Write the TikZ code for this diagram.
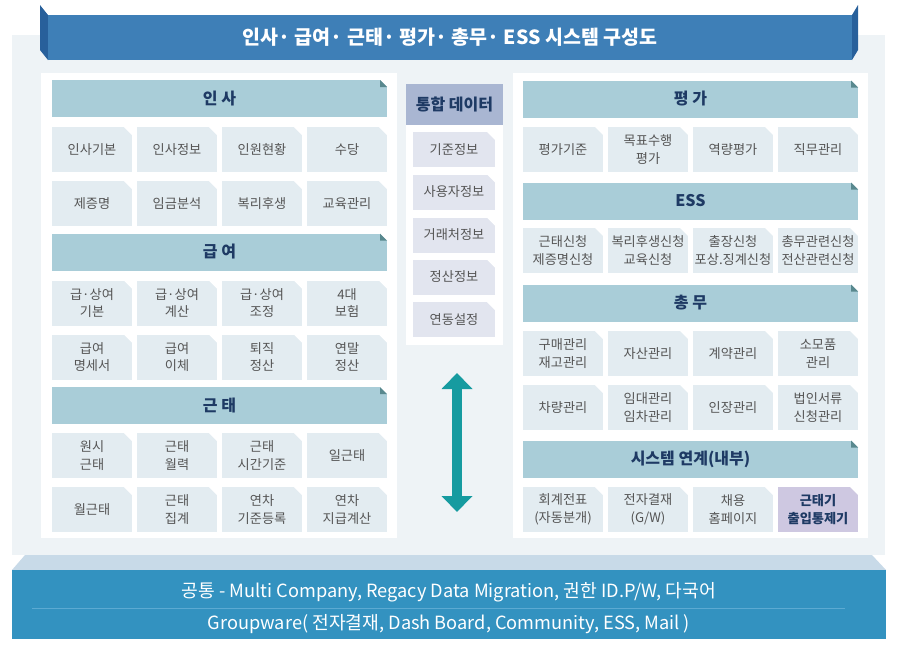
\documentclass[tikz,border=0pt]{standalone}
\usepackage{fontspec}
\setmainfont{Noto Sans CJK KR}
\usetikzlibrary{arrows.meta}
\definecolor{bannerc}{RGB}{62,127,183}
\definecolor{bannerside}{RGB}{40,96,155}
\definecolor{bgc}{RGB}{238,243,246}
\definecolor{headc}{RGB}{169,205,216}
\definecolor{headtext}{RGB}{30,58,100}
\definecolor{foldc}{RGB}{88,136,142}
\definecolor{cellc}{RGB}{227,236,241}
\definecolor{celltext}{RGB}{85,85,85}
\definecolor{midhead}{RGB}{169,182,210}
\definecolor{midcellc}{RGB}{226,229,239}
\definecolor{purplec}{RGB}{206,200,225}
\definecolor{arrowc}{RGB}{22,155,160}
\definecolor{bandc}{RGB}{51,146,192}
\definecolor{bandtop}{RGB}{200,218,232}
\definecolor{bandline}{RGB}{92,170,210}
\begin{document}
\begin{tikzpicture}[x=1pt,y=-1pt,
  cutcorner/.style={path picture={\fill[white] ([xshift=-#1]path picture bounding box.north east) -- (path picture bounding box.north east) -- ([yshift=-#1]path picture bounding box.north east) -- cycle;}},
  head/.style={rectangle, fill=headc, minimum width=335pt, minimum height=37pt, inner sep=0pt, outer sep=0pt,
    font=\fontsize{16}{19}\selectfont\bfseries, text=headtext,
    path picture={\fill[white] ([xshift=-7pt]path picture bounding box.north east) -- (path picture bounding box.north east) -- ([yshift=-7pt]path picture bounding box.north east) -- cycle;
      \fill[foldc] ([xshift=-7pt]path picture bounding box.north east) -- ([xshift=-7pt,yshift=-7pt]path picture bounding box.north east) -- ([yshift=-7pt]path picture bounding box.north east) -- cycle;}},
  cell/.style={rectangle, fill=cellc, minimum width=80pt, minimum height=45pt, inner sep=0pt, outer sep=0pt,
    align=center, font=\fontsize{13.2}{17.5}\selectfont, text=celltext, cutcorner=8pt},
  midcell/.style={cell, fill=midcellc, minimum width=82pt, minimum height=35pt},
  purplecell/.style={cell, fill=purplec, text=headtext, font=\fontsize{13.2}{17.5}\selectfont\bfseries},
  bandtext/.style={text=white, font=\fontsize{18.2}{22}\selectfont, inner sep=0pt}
]
\useasboundingbox (0,0) rectangle (900,654);
\fill[white] (0,0) rectangle (900,654);
% background panel
\fill[bgc] (12,35) rectangle (885,555);
% title banner
\fill[bannerside] (40,5) -- (48,15) -- (48,60) -- (40,50) -- cycle;
\fill[bannerside] (858,5) -- (852,15) -- (852,60) -- (858,50) -- cycle;
\node[rectangle, fill=bannerc, minimum width=804pt, minimum height=45pt, inner sep=0pt, text=white,
  font=\fontsize{19.5}{24}\selectfont\bfseries] (title) at (450,37.5) {인사· 급여· 근태· 평가· 총무· ESS 시스템 구성도};
% white panels
\fill[white] (41,73) rectangle (397,538);
\fill[white] (406,84) rectangle (503,345);
\fill[white] (513,73) rectangle (868,538);

% ---- left: 인사
\node[head] (hInsa) at (219.5,98.5) {인 사};
\node[cell] (i11) at (92,149.5) {인사기본};
\node[cell] (i12) at (177,149.5) {인사정보};
\node[cell] (i13) at (262,149.5) {인원현황};
\node[cell] (i14) at (347,149.5) {수당};
\node[cell] (i21) at (92,203.5) {제증명};
\node[cell] (i22) at (177,203.5) {임금분석};
\node[cell] (i23) at (262,203.5) {복리후생};
\node[cell] (i24) at (347,203.5) {교육관리};
% ---- 급여
\node[head] (hPay) at (219.5,252) {급 여};
\node[cell] (p11) at (92,303) {급·상여\\기본};
\node[cell] (p12) at (177,303) {급·상여\\계산};
\node[cell] (p13) at (262,303) {급·상여\\조정};
\node[cell] (p14) at (347,303) {4대\\보험};
\node[cell] (p21) at (92,357) {급여\\명세서};
\node[cell] (p22) at (177,357) {급여\\이체};
\node[cell] (p23) at (262,357) {퇴직\\정산};
\node[cell] (p24) at (347,357) {연말\\정산};
% ---- 근태
\node[head] (hAtt) at (219.5,405.5) {근 태};
\node[cell] (a11) at (92,455.5) {원시\\근태};
\node[cell] (a12) at (177,455.5) {근태\\월력};
\node[cell] (a13) at (262,455.5) {근태\\시간기준};
\node[cell] (a14) at (347,455.5) {일근태};
\node[cell] (a21) at (92,509.5) {월근태};
\node[cell] (a22) at (177,509.5) {근태\\집계};
\node[cell] (a23) at (262,509.5) {연차\\기준등록};
\node[cell] (a24) at (347,509.5) {연차\\지급계산};

% ---- middle: 통합 데이터
\node[rectangle, fill=midhead, minimum width=97pt, minimum height=41pt, inner sep=0pt, text=headtext,
  font=\fontsize{16}{19}\selectfont\bfseries] (hData) at (454.5,104.5) {통합 데이터};
\node[midcell] (d1) at (454,149.5) {기준정보};
\node[midcell] (d2) at (454,192) {사용자정보};
\node[midcell] (d3) at (454,235) {거래처정보};
\node[midcell] (d4) at (454,277) {정산정보};
\node[midcell] (d5) at (454,319.5) {연동설정};
% double arrow
\coordinate (atop) at (457,373);
\coordinate (abot) at (457,512);
\draw[arrowc, line width=10pt, {Triangle[width=30pt,length=16pt]}-{Triangle[width=30pt,length=16pt]}] (atop) -- (abot);

% ---- right: 평가
\node[head] (hEval) at (690.5,99) {평 가};
\node[cell] (e1) at (563,149.5) {평가기준};
\node[cell] (e2) at (648,149.5) {목표수행\\평가};
\node[cell] (e3) at (733,149.5) {역량평가};
\node[cell] (e4) at (818,149.5) {직무관리};
% ---- ESS
\node[head] (hESS) at (690.5,201) {ESS};
\node[cell] (s1) at (563,250.5) {근태신청\\제증명신청};
\node[cell] (s2) at (648,250.5) {복리후생신청\\교육신청};
\node[cell] (s3) at (733,250.5) {출장신청\\포상.징계신청};
\node[cell] (s4) at (818,250.5) {총무관련신청\\전산관련신청};
% ---- 총무
\node[head] (hGen) at (690.5,303) {총 무};
\node[cell] (g11) at (563,353.5) {구매관리\\재고관리};
\node[cell] (g12) at (648,353.5) {자산관리};
\node[cell] (g13) at (733,353.5) {계약관리};
\node[cell] (g14) at (818,353.5) {소모품\\관리};
\node[cell] (g21) at (563,407.5) {차량관리};
\node[cell] (g22) at (648,407.5) {임대관리\\임차관리};
\node[cell] (g23) at (733,407.5) {인장관리};
\node[cell] (g24) at (818,407.5) {법인서류\\신청관리};
% ---- 시스템 연계
\node[head] (hSys) at (690.5,459) {시스템 연계(내부)};
\node[cell] (y1) at (563,509.5) {회계전표\\(자동분개)};
\node[cell] (y2) at (648,509.5) {전자결재\\(G/W)};
\node[cell] (y3) at (733,509.5) {채용\\홈페이지};
\node[purplecell] (y4) at (818,509.5) {근태기\\출입통제기};

% ---- bottom band
\fill[bandtop] (25,555) -- (872,555) -- (886,570) -- (12,570) -- cycle;
\fill[bandc] (12,570) rectangle (886,639);
\coordinate (sepL) at (32,608);
\coordinate (sepR) at (845,608);
\draw[bandline, line width=0.8pt] (sepL) -- (sepR);
\node[bandtext] (common) at (449,592) {공통 - Multi Company, Regacy Data Migration, 권한 ID.P/W, 다국어};
\node[bandtext] (groupware) at (449,624) {Groupware( 전자결재, Dash Board, Community, ESS, Mail )};
\end{tikzpicture}
\end{document}
